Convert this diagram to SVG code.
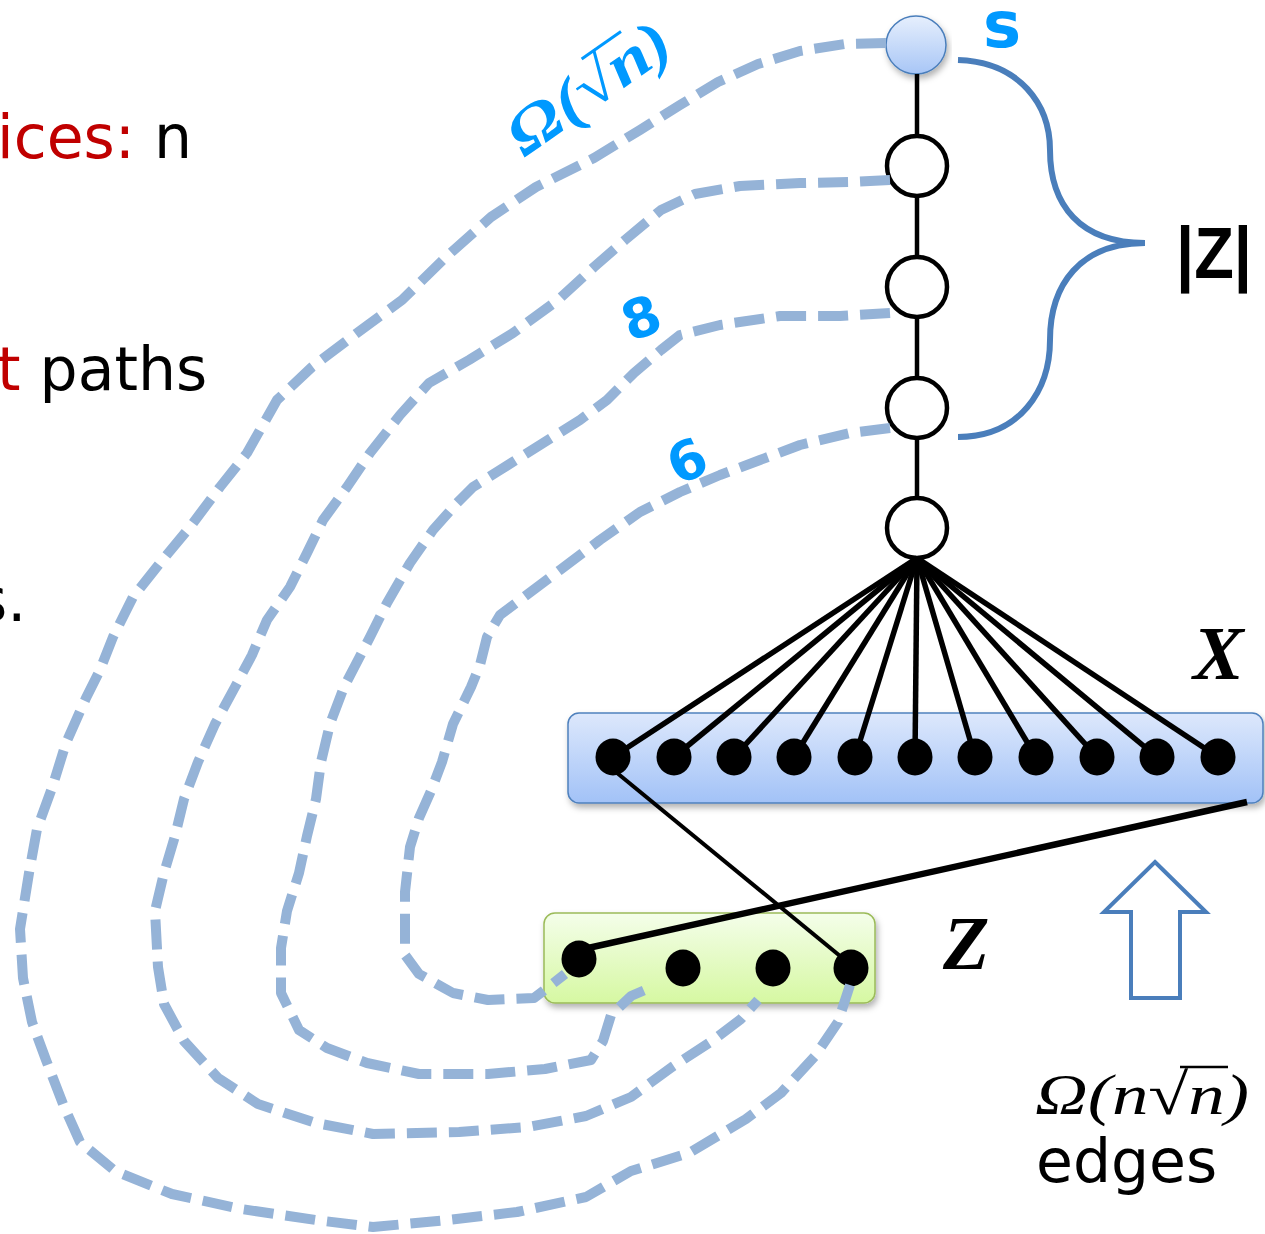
<svg xmlns="http://www.w3.org/2000/svg" width="1265" height="1234" viewBox="0 0 1265 1234">
<defs>
<linearGradient id="gX" x1="0" y1="0" x2="0" y2="1"><stop offset="0" stop-color="#dde8fc"/><stop offset="1" stop-color="#a2c2f7"/></linearGradient>
<linearGradient id="gZ" x1="0" y1="0" x2="0" y2="1"><stop offset="0" stop-color="#f4feea"/><stop offset="1" stop-color="#d6f8a2"/></linearGradient>
<linearGradient id="gS" x1="0" y1="0" x2="0" y2="1"><stop offset="0" stop-color="#e6effd"/><stop offset="1" stop-color="#a8c6f6"/></linearGradient>
<filter id="sh" x="-10%" y="-20%" width="120%" height="150%"><feDropShadow dx="2" dy="4" stdDeviation="3" flood-color="#000" flood-opacity="0.3"/></filter>
<style>
.dash{fill:none;stroke:#95b3d7;stroke-width:10;stroke-dasharray:30 12;stroke-linejoin:round}
.chain{fill:#fff;stroke:#000;stroke-width:4.5}
.dot{fill:#000}
.fan{stroke:#000;stroke-width:5.5}
.txt{font-family:"DejaVu Sans",sans-serif;font-size:60px}
.blue{fill:#0099ff;font-family:"DejaVu Sans",sans-serif;font-weight:bold}
.math{font-family:"Liberation Serif",serif;font-style:italic}
</style>
</defs>

<g id="left-text" class="txt">
<text x="-3" y="158"><tspan fill="#c00000">ices:</tspan><tspan fill="#000"> n</tspan></text>
<text x="-3" y="390"><tspan fill="#c00000">t</tspan><tspan fill="#000"> paths</tspan></text>
<text x="-24" y="621" fill="#000">s.</text>
</g>

<g id="node-X">
<rect x="568" y="713" width="695" height="90" rx="11" fill="url(#gX)" stroke="#4f81bd" stroke-width="1.5" filter="url(#sh)"/>
<g class="dot">
<ellipse cx="613" cy="757" rx="17.5" ry="18.5"/>
<ellipse cx="674" cy="757" rx="17.5" ry="18.5"/>
<ellipse cx="734" cy="757" rx="17.5" ry="18.5"/>
<ellipse cx="794" cy="757" rx="17.5" ry="18.5"/>
<ellipse cx="855" cy="757" rx="17.5" ry="18.5"/>
<ellipse cx="915" cy="757" rx="17.5" ry="18.5"/>
<ellipse cx="975" cy="757" rx="17.5" ry="18.5"/>
<ellipse cx="1036" cy="757" rx="17.5" ry="18.5"/>
<ellipse cx="1097" cy="757" rx="17.5" ry="18.5"/>
<ellipse cx="1157" cy="757" rx="17.5" ry="18.5"/>
<ellipse cx="1218" cy="757" rx="17.5" ry="18.5"/>
</g>
<text x="1193" y="679" class="math" font-weight="bold" font-size="76" fill="#000">X</text>
</g>

<g id="node-Z">
<rect x="544" y="913" width="331" height="90" rx="11" fill="url(#gZ)" stroke="#9bbb59" stroke-width="1.5" filter="url(#sh)"/>
<g class="dot">
<ellipse cx="579" cy="959" rx="17.5" ry="18.5"/>
<ellipse cx="683" cy="968" rx="17.5" ry="18.5"/>
<ellipse cx="773" cy="968" rx="17.5" ry="18.5"/>
<ellipse cx="851" cy="968" rx="17.5" ry="18.5"/>
</g>
<text x="943" y="969" class="math" font-weight="bold" font-size="76" fill="#000">Z</text>
</g>

<g id="node-s">
<ellipse cx="916" cy="45" rx="30" ry="29" fill="url(#gS)" stroke="#4a7ebb" stroke-width="1.5" filter="url(#sh)"/>
<text x="983" y="47" class="blue" font-size="64">s</text>
</g>
<g id="node-2"><circle class="chain" cx="917" cy="166" r="30"/></g>
<g id="node-3"><circle class="chain" cx="917" cy="287" r="30"/></g>
<g id="node-4"><circle class="chain" cx="917" cy="408" r="30"/></g>
<g id="node-5"><circle class="chain" cx="917" cy="528" r="30"/></g>

<g id="connectors">
<path class="dash" d="M886,43 L845,44 L800,51 L758,64 L718,82 L680,105 L640,130 L594,158 L536,187 L491,217 L446,257 L402,300 L357,333 L312,367 L277,400 L247,453 L220,487 L190,527 L160,563 L133,597 L113,637 L100,670 L86,698 L66,743 L52,788 L37,829 L29,873 L20,929 L23,978 L32,1022 L46,1060 L63,1104 L80,1142 L115,1171 L172,1194 L241,1209 L316,1220 L373,1227 L448,1220 L517,1212 L586,1197 L631,1171 L689,1153 L746,1119 L781,1093 L815,1056 L838,1022 L850,985"/>
<path class="dash" d="M890,180 L850,182 L800,183 L740,186 L695,194 L661,210 L625,240 L594,267 L558,300 L513,333 L469,360 L429,383 L400,415 L370,453 L347,487 L323,520 L307,553 L290,587 L267,620 L252,655 L235,687 L215,724 L198,762 L184,799 L175,836 L164,873 L155,911 L158,967 L164,1004 L184,1041 L218,1078 L258,1104 L316,1123 L373,1134 L459,1132 L528,1127 L586,1116 L631,1097 L672,1067 L712,1041 L741,1019 L758,1000"/>
<path class="dash" d="M890,313 L840,316 L780,316 L720,325 L680,335 L661,350 L634,373 L607,400 L580,420 L540,445 L500,470 L473,487 L457,503 L433,530 L410,563 L387,603 L370,637 L357,662 L344,687 L330,724 L321,762 L316,799 L307,836 L299,873 L287,911 L281,948 L281,993 L299,1030 L327,1048 L367,1063 L419,1074 L488,1074 L545,1069 L591,1060 L603,1041 L611,1015 L631,996 L652,987"/>
<path class="dash" d="M890,428 L850,433 L800,445 L760,460 L720,475 L680,492 L640,512 L600,540 L560,570 L520,600 L500,615 L487,637 L480,665 L471,687 L453,724 L442,762 L431,791 L419,818 L410,847 L405,892 L405,955 L419,974 L453,993 L488,1000 L534,998 L551,985 L565,974"/>
<g stroke="#000" stroke-width="4.5">
<line x1="917" y1="74" x2="917" y2="136"/>
<line x1="917" y1="196" x2="917" y2="257"/>
<line x1="917" y1="317" x2="917" y2="378"/>
<line x1="917" y1="438" x2="917" y2="498"/>
</g>
<g class="fan">
<line x1="917" y1="558" x2="613" y2="757"/>
<line x1="917" y1="558" x2="674" y2="757"/>
<line x1="917" y1="558" x2="734" y2="757"/>
<line x1="917" y1="558" x2="794" y2="757"/>
<line x1="917" y1="558" x2="855" y2="757"/>
<line x1="917" y1="558" x2="915" y2="757"/>
<line x1="917" y1="558" x2="975" y2="757"/>
<line x1="917" y1="558" x2="1036" y2="757"/>
<line x1="917" y1="558" x2="1097" y2="757"/>
<line x1="917" y1="558" x2="1157" y2="757"/>
<line x1="917" y1="558" x2="1218" y2="757"/>
</g>
<line x1="611" y1="768" x2="851" y2="965" stroke="#000" stroke-width="4"/>
<line x1="1247" y1="802" x2="579" y2="950" stroke="#000" stroke-width="6.5"/>
<path d="M958,60 C1020,62 1050,105 1050,150 C1050,205 1080,243 1145,243 C1080,243 1050,285 1050,340 C1050,390 1020,437 958,437" fill="none" stroke="#4a7ebb" stroke-width="6"/>
</g>

<g id="label-Z">
<text x="1176" y="278" font-family="Liberation Sans, sans-serif" font-weight="bold" font-size="72" fill="#000" textLength="76" lengthAdjust="spacingAndGlyphs">|Z|</text>
</g>

<g id="label-omega" transform="translate(524,158) rotate(-35)">
<text x="0" y="0" class="math" font-size="62" fill="#0099ff" font-weight="bold" textLength="186" lengthAdjust="spacingAndGlyphs">Ω(√n)</text>
<line x1="104" y1="-48" x2="152" y2="-48" stroke="#0099ff" stroke-width="3"/>
</g>
<text x="0" y="0" class="blue" font-size="54" transform="translate(630,342) rotate(-20)">8</text>
<text x="0" y="0" class="blue" font-size="54" transform="translate(678,486) rotate(-25)">6</text>

<g id="arrow">
<path d="M1155,862 L1206,912 L1180,912 L1180,998 L1131,998 L1131,912 L1104,912 Z" fill="#fff" stroke="#4a7ebb" stroke-width="4"/>
</g>

<g id="label-edges">
<text x="1035" y="1114" class="math" font-size="58" fill="#000" textLength="214" lengthAdjust="spacingAndGlyphs">Ω(n√n)</text>
<line x1="1180" y1="1067" x2="1228" y2="1067" stroke="#000" stroke-width="2.5"/>
<text x="1036" y="1182" class="txt" font-size="58" fill="#000">edges</text>
</g>
</svg>
